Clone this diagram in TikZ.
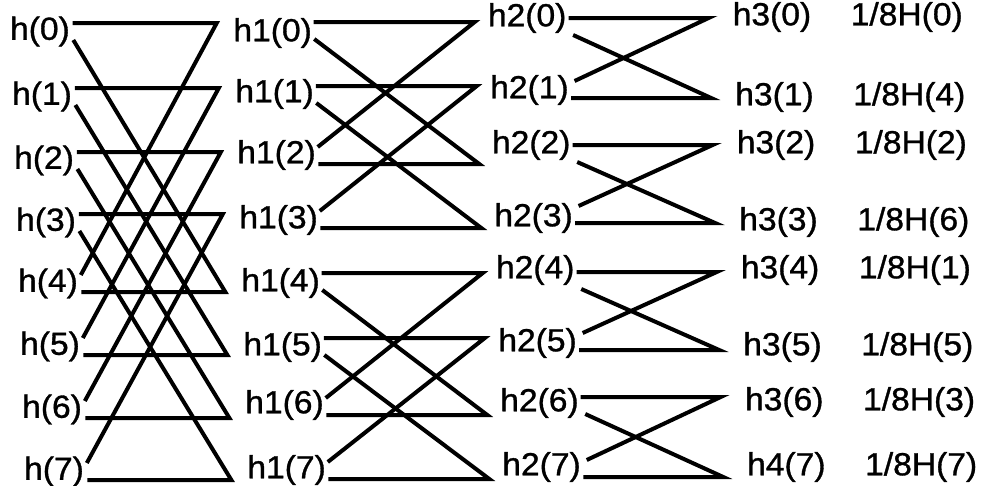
\documentclass[tikz,border=0pt]{standalone}
\usepackage{fontspec}
\setmainfont{Liberation Sans}
\newfontfamily\lblfont{Liberation Sans}[FakeBold=1, FakeStretch=1.05]

\begin{document}
\begin{tikzpicture}[
    x=1pt, y=-1pt,
    wire/.style={line width=4pt, line join=miter, line cap=butt},
    lbl/.style={inner sep=0pt, font=\lblfont\fontsize{32}{32}\selectfont}
]
    \useasboundingbox (0,0) rectangle (984,485);
    \begin{scope}[xslant=-0.032]
    \foreach \k/\ya/\yb/\yc/\lb/\lc/\ld/\rv in {
        0/23/22/18/33/18/17/0,
        1/88/86/98/94/90/97/4,
        2/152/164/145/155/145/145/2,
        3/214/228/223/220/218/222/6,
        4/292/273/272/283/270/270/1,
        5/355/338/350/347/343/347/5,
        6/418/415/397/405/403/402/3,
        7/480/479/477/470/467/467/7} {
        \pgfmathsetmacro\sa{\k<4 ? 17 : -17}
        \pgfmathsetmacro\sb{mod(\k,4)<2 ? 17 : -17}
        \pgfmathsetmacro\sc{mod(\k,2)==0 ? 17 : -17}
        \coordinate (s1-\k) at (72,\ya);
        \coordinate (d1-\k) at (72,\ya+\sa);
        \coordinate (e1-\k) at (216,\ya);
        \coordinate (s2-\k) at (313,\yb);
        \coordinate (d2-\k) at (313,\yb+\sb);
        \coordinate (e2-\k) at (474,\yb);
        \coordinate (s3-\k) at (568,\yc);
        \coordinate (d3-\k) at (572,\yc+\sc);
        \coordinate (e3-\k) at (708,\yc);
        \node[lbl, anchor=east] (x\k) at (69,\ya+\sa/2) {h(\k)};
        \node[lbl, anchor=east] (a\k) at (311,\lb) {h1(\k)};
        \node[lbl, anchor=east] (b\k) at (566,\lc) {h2(\k)};
        \node[lbl, anchor=west] (c\k) at (732,\ld) {\ifnum\k=7 h4\else h3\fi(\k)};
        \node[lbl, anchor=west] (H\k) at (850,\ld) {1/8H(\rv)};
    }

    \foreach \k/\p in {0/4,1/5,2/6,3/7,4/0,5/1,6/2,7/3}
        \draw[wire] (s1-\k) -- (e1-\k) -- (d1-\p);
    \foreach \k/\p in {0/2,1/3,2/0,3/1,4/6,5/7,6/4,7/5}
        \draw[wire] (s2-\k) -- (e2-\k) -- (d2-\p);
    \foreach \k/\p in {0/1,1/0,2/3,3/2,4/5,5/4,6/7,7/6}
        \draw[wire] (s3-\k) -- (e3-\k) -- (d3-\p);
    \end{scope}
\end{tikzpicture}
\end{document}
